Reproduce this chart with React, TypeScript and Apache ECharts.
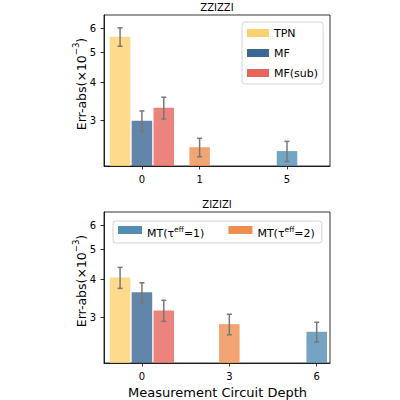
import React, { useEffect, useRef } from 'react';
import * as echarts from 'echarts';

// Series drawn in each panel (same order in every array below)
const seriesNames = ['TPN', 'MF', 'MF(sub)', 'MT(τ=2)', 'MT(τ=1)'];
const topLegendNames = ['TPN', 'MF', 'MF(sub)'];
const bottomLegendNames = ['MT(τ=1)', 'MT(τ=2)'];

// Measurement circuit depths shown on each panel's x axis
const zzDepthLabels = ['0', '1', '5'];
const ziDepthLabels = ['0', '3', '6'];
const zzDepthPos = [0, 0.66, 1.66];
const ziDepthPos = [0, 1, 2];
// depth slot that each series occupies
const seriesDepth = [0, 0, 0, 1, 2];

// Err-abs (×10^-3): mean and error half-width, ZZIZZI panel
const zzMean = [5.63, 2.99, 3.3, 2.45, 2.38];
const zzErr = [0.39, 0.23, 0.27, 0.17, 0.18];
// ZIZIZI panel
const ziMean = [4.05, 3.62, 3.16, 2.85, 2.69];
const ziErr = [0.32, 0.27, 0.25, 0.22, 0.2];

// log-scaled y axis
const yTicks = [3, 4, 5, 6];
const yRange = [2.127, 6.63];

const FONT = 'DejaVu Sans';
const COLORS = ['#FDD16F', '#3B6895', '#E5655C', '#EF8D4F', '#528DB4'];
const OFFSETS = [-0.25, 0, 0.25, 0, 0];
const BAR_W = 0.235;
const ERR_COLOR = '#787878';

const lg = (v: number) => Math.log10(v);

function makeRender(color: string, offset: number) {
  return (params: any, api: any) => {
    const x = api.value(0) + offset;
    const tl = api.coord([x - BAR_W / 2, api.value(1)]);
    const tr = api.coord([x + BAR_W / 2, api.value(1)]);
    const hi = api.coord([x, api.value(2)]);
    const lo = api.coord([x, api.value(3)]);
    const cs = params.coordSys;
    const bottom = cs.y + cs.height;
    const cap = 2.5;
    const errStyle = { stroke: ERR_COLOR, lineWidth: 1.5 };
    return {
      type: 'group',
      children: [
        {
          type: 'rect',
          shape: { x: tl[0], y: tl[1], width: tr[0] - tl[0], height: bottom - tl[1] },
          style: { fill: color, opacity: 0.8 },
        },
        { type: 'line', shape: { x1: hi[0], y1: hi[1], x2: lo[0], y2: lo[1] }, style: errStyle },
        { type: 'line', shape: { x1: hi[0] - cap, y1: hi[1], x2: hi[0] + cap, y2: hi[1] }, style: errStyle },
        { type: 'line', shape: { x1: lo[0] - cap, y1: lo[1], x2: lo[0] + cap, y2: lo[1] }, style: errStyle },
      ],
    };
  };
}

function panelSeries(panel: number, means: number[], errs: number[], pos: number[]) {
  return seriesNames.map((name, i) => ({
    type: 'custom',
    name,
    xAxisIndex: panel,
    yAxisIndex: panel,
    silent: true,
    clip: true,
    itemStyle: { color: COLORS[i] },
    encode: { x: 0, y: [1, 2, 3] },
    renderItem: makeRender(COLORS[i], OFFSETS[i]),
    data: [[pos[seriesDepth[i]], lg(means[i]), lg(means[i] + errs[i]), lg(means[i] - errs[i])]],
  }));
}

function xAxis(gridIndex: number, pos: number[], labels: string[]) {
  return {
    type: 'value',
    gridIndex,
    min: -0.434,
    max: 2.152,
    splitLine: { show: false },
    axisLine: { show: true, onZero: false, lineStyle: { color: '#000', width: 0.8 } },
    axisTick: { show: true, length: 3.5, lineStyle: { color: '#000', width: 0.8 }, customValues: pos },
    axisLabel: {
      customValues: pos,
      formatter: (v: number) => {
        const k = pos.findIndex((p) => Math.abs(p - v) < 1e-6);
        return k >= 0 ? labels[k] : '';
      },
      fontSize: 10,
      fontFamily: FONT,
      color: '#000',
      margin: 8,
    },
  };
}

function yAxis(gridIndex: number) {
  const vals = yTicks.map(lg);
  return {
    type: 'value',
    gridIndex,
    min: lg(yRange[0]),
    max: lg(yRange[1]),
    splitLine: { show: false },
    axisLine: { show: true, onZero: false, lineStyle: { color: '#000', width: 0.8 } },
    axisTick: { show: true, length: 3.5, lineStyle: { color: '#000', width: 0.8 }, customValues: vals },
    axisLabel: {
      customValues: vals,
      formatter: (v: number) => String(Math.round(Math.pow(10, v))),
      fontSize: 10,
      fontFamily: FONT,
      color: '#000',
      margin: 8,
    },
  };
}

// superscripts: small text pinned to the top of the line, nudged down by its top padding
const supRich = {
  n: { fontSize: 11, fontFamily: FONT, color: '#000', lineHeight: 18, verticalAlign: 'bottom' },
  s: { fontSize: 7.5, fontFamily: FONT, color: '#000', verticalAlign: 'top', padding: [4, 0, 0, 0] },
};

const yLabelRich = {
  n: { fontSize: 12.5, fontFamily: FONT, color: '#000', lineHeight: 20, verticalAlign: 'bottom' },
  s: { fontSize: 8.5, fontFamily: FONT, color: '#000', verticalAlign: 'top', padding: [3, 0, 0, 0] },
};

function yLabel(cy: number) {
  return {
    type: 'text',
    x: 78,
    y: cy,
    rotation: Math.PI / 2,
    style: {
      text: '{n|Err-abs(×10}{s|−3}{n|)}',
      rich: yLabelRich,
      align: 'center',
      verticalAlign: 'middle',
    },
  };
}

function title(text: string, cy: number) {
  return {
    type: 'text',
    x: 217,
    y: cy,
    style: { text, fontSize: 10, fontFamily: FONT, fill: '#000', align: 'center', verticalAlign: 'middle' },
  };
}

export default function App() {
  const ref = useRef<HTMLDivElement>(null);

  useEffect(() => {
    if (!ref.current) return;
    const chart = echarts.init(ref.current, null, { renderer: 'svg' });
    const legendBase = {
      icon: 'rect',
      itemHeight: 8,
      selectedMode: false,
      borderColor: '#d4d4d4',
      borderWidth: 1,
      borderRadius: 3,
      backgroundColor: '#fff',
    };
    chart.setOption({
      animation: false,
      grid: [
        { left: 104, top: 15, width: 226, height: 151, show: true, borderColor: '#000', borderWidth: 0.8 },
        { left: 104, top: 212, width: 226, height: 151, show: true, borderColor: '#000', borderWidth: 0.8 },
      ],
      xAxis: [xAxis(0, zzDepthPos, zzDepthLabels), xAxis(1, ziDepthPos, ziDepthLabels)],
      yAxis: [yAxis(0), yAxis(1)],
      legend: [
        {
          ...legendBase,
          data: topLegendNames,
          orient: 'vertical',
          left: 242,
          top: 22,
          itemWidth: 22,
          itemGap: 6,
          padding: [4, 5, 4, 5],
          textStyle: { fontSize: 11, fontFamily: FONT, color: '#000', lineHeight: 14 },
        },
        {
          ...legendBase,
          data: bottomLegendNames,
          orient: 'horizontal',
          left: 113,
          top: 221,
          itemWidth: 24,
          itemGap: 24,
          padding: [4, 7, 4, 5],
          formatter: (name: string) => {
            const m = name.match(/=(\d+)\)/);
            return `{n|MT(τ}{s|eff}{n|=${m ? m[1] : ''})}`;
          },
          textStyle: { rich: supRich },
        },
      ],
      graphic: [
        title('ZZIZZI', 7),
        title('ZIZIZI', 204),
        yLabel(84),
        yLabel(281),
        {
          type: 'text',
          x: 217.5,
          y: 392,
          style: {
            text: 'Measurement Circuit Depth',
            fontSize: 13,
            fontFamily: FONT,
            fill: '#000',
            align: 'center',
            verticalAlign: 'middle',
          },
        },
      ],
      series: [
        ...panelSeries(0, zzMean, zzErr, zzDepthPos),
        ...panelSeries(1, ziMean, ziErr, ziDepthPos),
      ],
    });
    return () => chart.dispose();
  }, []);

  return (
    <div
      ref={ref}
      style={{ position: 'absolute', left: 0, top: 0, width: 400, height: 400, background: '#fff' }}
    />
  );
}
